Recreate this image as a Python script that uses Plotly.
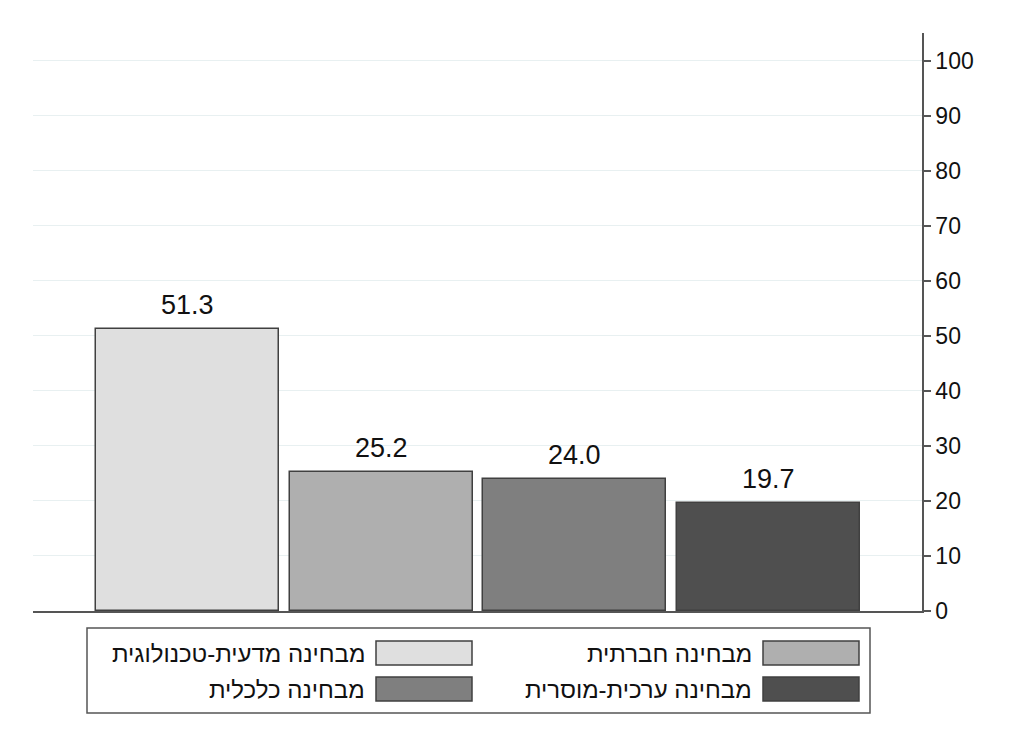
import plotly.graph_objects as go

# נתונים
categories = ['מבחינה מדעית-טכנולוגית', 'מבחינה חברתית', 'מבחינה כלכלית', 'מבחינה ערכית-מוסרית']
values = [51.3, 25.2, 24.0, 19.7]
colors = ['#dfdfdf', '#afafaf', '#7f7f7f', '#4f4f4f']
y_ticks = [0, 10, 20, 30, 40, 50, 60, 70, 80, 90, 100]

# the page puts the figure 8px in from the top-left corner
OFF = 8
W, H = 1014 - OFF, 744 - OFF
# plot area in page pixels
L, R, T, B = 33, 922, 33, 611

def px_x(x):
    return (x - L) / (R - L)

def px_y(y):
    return (B - y) / (B - T)

fig = go.Figure()

annotations = []
for i, (name, val, col) in enumerate(zip(categories, values, colors)):
    fig.add_trace(go.Bar(
        x=[i],
        y=[val],
        name=name,
        width=0.945,
        marker=dict(color=col, line=dict(color='#404040', width=1.5)),
        showlegend=False
    ))
    annotations.append(dict(
        x=i, y=val, xref='x', yref='y', yanchor='bottom', yshift=7,
        text=f'{val:.1f}', showarrow=False,
        font=dict(size=27, color='#111111')
    ))

# מקרא ידני (ריבוע מימין לטקסט)
shapes = [dict(
    type='rect', xref='paper', yref='paper',
    x0=px_x(87), x1=px_x(870), y0=px_y(713), y1=px_y(628),
    line=dict(color='#555555', width=1.5), fillcolor='white'
)]
col_left = [376, 763]
row_center = [653, 689]
for i, (name, col) in enumerate(zip(categories, colors)):
    r, c = divmod(i, 2)
    sx = col_left[c]
    cy = row_center[r]
    shapes.append(dict(
        type='rect', xref='paper', yref='paper',
        x0=px_x(sx), x1=px_x(sx + 96), y0=px_y(cy + 12), y1=px_y(cy - 12),
        line=dict(color='#404040', width=1.5), fillcolor=col
    ))
    annotations.append(dict(
        xref='paper', yref='paper', x=px_x(sx - 9), y=px_y(cy),
        xanchor='right', yanchor='middle', showarrow=False,
        text=name, font=dict(size=24, color='#111111')
    ))

fig.update_layout(
    width=W, height=H,
    margin=dict(l=L - OFF, r=W - (R - OFF), t=T - OFF, b=H - (B - OFF), autoexpand=False),
    plot_bgcolor='white', paper_bgcolor='white',
    font=dict(family='Liberation Sans, Arial, sans-serif', color='#111111'),
    barmode='overlay',
    bargap=0,
    shapes=shapes,
    annotations=annotations,
    xaxis=dict(
        range=[-0.798, 3.793], showticklabels=False, ticks='',
        showgrid=False, zeroline=False,
        showline=True, linecolor='#555555', linewidth=1.5
    ),
    yaxis=dict(
        side='right', range=[0, 105], tickvals=y_ticks,
        ticks='outside', ticklen=7, tickcolor='#555555', tickwidth=1.5,
        tickfont=dict(size=23, color='#111111'),
        showline=True, linecolor='#555555', linewidth=1.5,
        showgrid=True, gridcolor='#e8f0f1', gridwidth=1.2,
        zeroline=False
    )
)

fig.write_html("out.html")
